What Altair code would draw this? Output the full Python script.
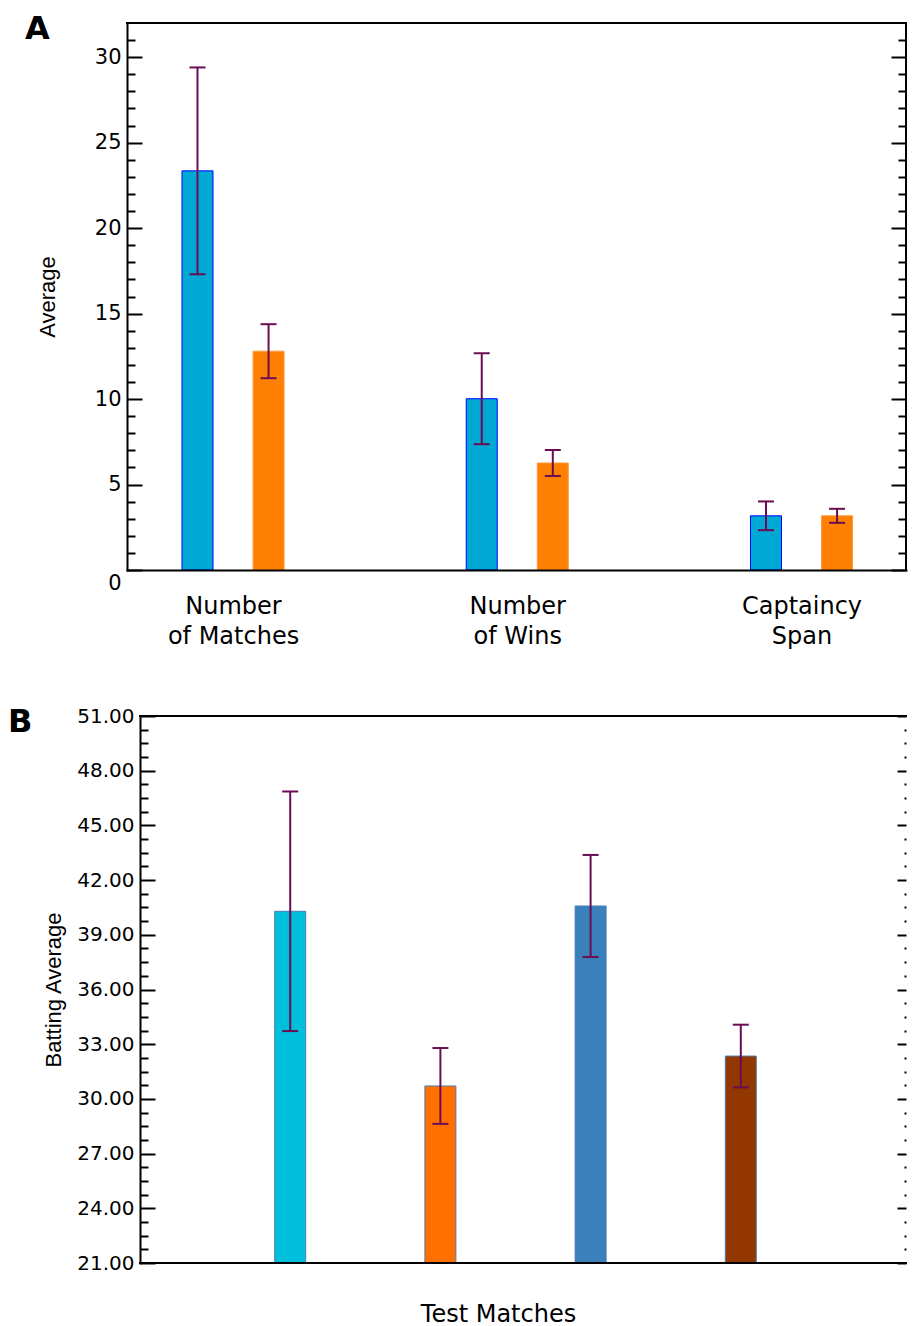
import altair as alt
import pandas as pd

# ---------------- Panel A data ----------------
categories_a = ["Number of Matches", "Number of Wins", "Captaincy Span"]
category_lines_a = [["Number", "of Matches"], ["Number", "of Wins"], ["Captaincy", "Span"]]
series_a = ["Series 1", "Series 2"]
means_a_s1 = [23.35, 10.02, 3.17]
errs_a_s1 = [6.05, 2.66, 0.84]
means_a_s2 = [12.80, 6.26, 3.17]
errs_a_s2 = [1.58, 0.76, 0.41]
fill_a = ["#00A8D4", "#FF8000"]
edge_a = ["#0000FF", "#FF9A3C"]
yticks_a_major = [0, 5, 10, 15, 20, 25, 30]
yticks_a_minor = [v for v in range(1, 32) if v % 5 != 0]

# ---------------- Panel B data ----------------
series_b = ["Bar 1", "Bar 2", "Bar 3", "Bar 4"]
means_b = [40.29, 30.71, 40.58, 32.35]
errs_b = [6.57, 2.08, 2.80, 1.72]
fill_b = ["#00BFDD", "#FF7000", "#3A80BA", "#933700"]
edge_b = ["#4A7DB5", "#4A7DB5", "#4A7DB5", "#4A7DB5"]
yticks_b_major = [21, 24, 27, 30, 33, 36, 39, 42, 45, 48, 51]
yticks_b_minor = [21 + 0.75 * k for k in range(41) if k % 4 != 0]

ERR = "#6A0D52"
FONT = "DejaVu Sans"
TITLE_FONT = "Liberation Sans"
H = 547

# ---------------- Tables ----------------
rows = []
for g, cat in enumerate(categories_a):
    for s, (means, errs) in enumerate([(means_a_s1, errs_a_s1), (means_a_s2, errs_a_s2)]):
        m, e = means[g], errs[g]
        rows.append({"cat": cat, "series": series_a[s],
                     "x": g + (-0.125 if s == 0 else 0.125),
                     "mean": m, "lo": m - e, "hi": m + e})
dfa = pd.DataFrame(rows)

dfb = pd.DataFrame({"series": series_b, "x": list(range(1, len(series_b) + 1)),
                    "mean": means_b,
                    "lo": [m - e for m, e in zip(means_b, errs_b)],
                    "hi": [m + e for m, e in zip(means_b, errs_b)]})

NOEXT = dict(minExtent=0, maxExtent=200)


def tick_axis(orient, values, size, offset):
    return alt.Axis(orient=orient, values=values, tickSize=size, offset=offset,
                    grid=False, tickColor="black", tickWidth=2, labels=False,
                    domain=False, title=None, zindex=1, **NOEXT)


def panel(df, width, xdom, ydom, ymaj, ymin, color_scale, stroke_scale, ytitle, yfmt,
          ylabsize, xaxis_main, ytitle_x, axis_shift, letter, letter_xy, spacer,
          right_ticks, frame):
    xs = alt.Scale(domain=xdom, nice=False, zero=False, padding=0)
    ys = alt.Scale(domain=ydom, nice=False, zero=False, padding=0)

    def ghost(y_axis=None):
        return alt.Chart(df).mark_point(opacity=0).encode(
            x=alt.X("x:Q", scale=xs, axis=None),
            y=alt.Y("mean:Q", scale=ys, axis=y_axis),
        )

    bars = alt.Chart(df).mark_bar(size=31, strokeWidth=1, orient="vertical", clip=True).encode(
        x=alt.X("x:Q", scale=xs, axis=xaxis_main),
        y=alt.Y("mean:Q", scale=ys, stack=None, axis=alt.Axis(
            orient="left", values=ymaj, format=yfmt, ticks=False, tickSize=0,
            offset=-axis_shift,
            labelPadding=6, labelFont=FONT, labelFontSize=ylabsize, labelColor="black",
            labelFlush=False, labelOverlap=False,
            labelOffset={"condition": {"test": "datum.value == 0", "value": 13}, "value": 0},
            domain=True, domainColor="black", domainWidth=2, domainCap="square",
            grid=False, zindex=1, title=ytitle, titleFont=TITLE_FONT, titleFontSize=22,
            titleFontWeight="normal", titleColor="black", titleAngle=270,
            titleBaseline="middle", titleAlign="center", titleX=ytitle_x, titleY=H / 2,
            **NOEXT)),
        color=alt.Color("series:N", scale=color_scale, legend=None),
        stroke=alt.Stroke("series:N", scale=stroke_scale, legend=None),
    )
    rules = alt.Chart(df).mark_rule(color=ERR, strokeWidth=2).encode(
        x=alt.X("x:Q", scale=xs, axis=None),
        y=alt.Y("lo:Q", scale=ys, axis=None), y2="hi:Q")
    cap_lo = alt.Chart(df).mark_tick(color=ERR, orient="horizontal", size=16, thickness=2,
                                     opacity=1).encode(
        x=alt.X("x:Q", scale=xs, axis=None), y=alt.Y("lo:Q", scale=ys, axis=None))
    cap_hi = alt.Chart(df).mark_tick(color=ERR, orient="horizontal", size=16, thickness=2,
                                     opacity=1).encode(
        x=alt.X("x:Q", scale=xs, axis=None), y=alt.Y("hi:Q", scale=ys, axis=None))

    fr = pd.DataFrame(frame, columns=["x0", "x1", "y0", "y1"])
    frame_layer = alt.Chart(fr).mark_rule(color="black", strokeWidth=2, strokeCap="square").encode(
        x=alt.X("x0:Q", scale=xs, axis=None), x2="x1:Q",
        y=alt.Y("y0:Q", scale=ys, axis=None), y2="y1:Q")

    layers = [bars, rules, cap_lo, cap_hi,
              ghost(tick_axis("left", ymaj, 15, -15 - axis_shift)),
              ghost(tick_axis("left", ymin, 8, -8 - axis_shift)),
              ghost(tick_axis("right", ymaj, right_ticks[0], -right_ticks[0])),
              ghost(tick_axis("right", ymin, right_ticks[1], -right_ticks[1])),
              frame_layer]

    lab = alt.Chart(pd.DataFrame({"t": [letter]})).mark_text(
        font=FONT, fontSize=32, fontWeight="bold", color="black", align="left",
        baseline="alphabetic").encode(text="t:N", x=alt.value(letter_xy[0]),
                                      y=alt.value(letter_xy[1]))
    sp = alt.Chart(pd.DataFrame({"t": [letter]})).mark_rule(strokeOpacity=0, strokeWidth=1).encode(
        x=alt.value(spacer[0]), x2=alt.value(spacer[0]),
        y=alt.value(spacer[1]), y2=alt.value(spacer[2]))
    layers += [lab, sp]
    return alt.layer(*layers).resolve_axis(x="independent", y="independent").properties(
        width=width, height=H)


label_expr_a = "[" + ",".join("[" + ",".join("'" + p + "'" for p in ln) + "]"
                              for ln in category_lines_a) + "][datum.value]"
xaxis_a = alt.Axis(orient="bottom", values=list(range(len(categories_a))), labelExpr=label_expr_a,
                   ticks=False, tickSize=0, labelPadding=24, labelFont=FONT, labelFontSize=24,
                   labelColor="black", labelLineHeight=30, labelBaseline="top",
                   labelAlign="center", labelFlush=False, labelOverlap=False, labelBound=False,
                   domain=True, domainColor="black", domainWidth=2, domainCap="square",
                   grid=False, title=None, zindex=1, **NOEXT)
xaxis_b = alt.Axis(orient="bottom", ticks=False, tickSize=0, labels=False,
                   domain=False, grid=False, zindex=1, title="Test Matches", titleFont=FONT,
                   titleFontSize=24, titleFontWeight="normal", titleColor="black",
                   titleX=371, titleY=58, titleAlign="center", titleBaseline="alphabetic",
                   **NOEXT)

UNIT_A = 284.25
WA = 779
XDOM_A = [-0.373, -0.373 + WA / UNIT_A]
YDOM_A = [0, 32]
UNIT_B = 150.2
SHIFT_B = 13
WB = 779
XDOM_B = [-SHIFT_B / UNIT_B, (WB - SHIFT_B) / UNIT_B]
YDOM_B = [21, 51]

frame_a = [(XDOM_A[0], XDOM_A[1], YDOM_A[1], YDOM_A[1]),
           (XDOM_A[1], XDOM_A[1], YDOM_A[0], YDOM_A[1])]
frame_b = [(0.0, XDOM_B[1], YDOM_B[1], YDOM_B[1]),
           (0.0, XDOM_B[1], YDOM_B[0], YDOM_B[0])]

panel_a = panel(dfa, WA, XDOM_A, YDOM_A, yticks_a_major, yticks_a_minor,
                alt.Scale(domain=series_a, range=fill_a), alt.Scale(domain=series_a, range=edge_a),
                "Average", "d", 21, xaxis_a, -80, 0, "A", (-102, 16), (-119, -15, 677),
                (15, 8), frame_a)
panel_b = panel(dfb, WB, XDOM_B, YDOM_B, yticks_b_major, yticks_b_minor,
                alt.Scale(domain=series_b, range=fill_b), alt.Scale(domain=series_b, range=edge_b),
                "Batting Average", ".2f", 20, xaxis_b, -86.5, SHIFT_B, "B", (-119, 16),
                (-119, -16, 0), (9, 2), frame_b)

chart = alt.concat(panel_a, panel_b, columns=1, spacing=0, align="none").resolve_scale(
    color="independent", stroke="independent"
).properties(
    padding={"left": 0, "top": 0, "right": 0, "bottom": 0}
).configure_view(stroke=None)

chart.save("out.html", embed_options={"renderer": "svg", "actions": False})
